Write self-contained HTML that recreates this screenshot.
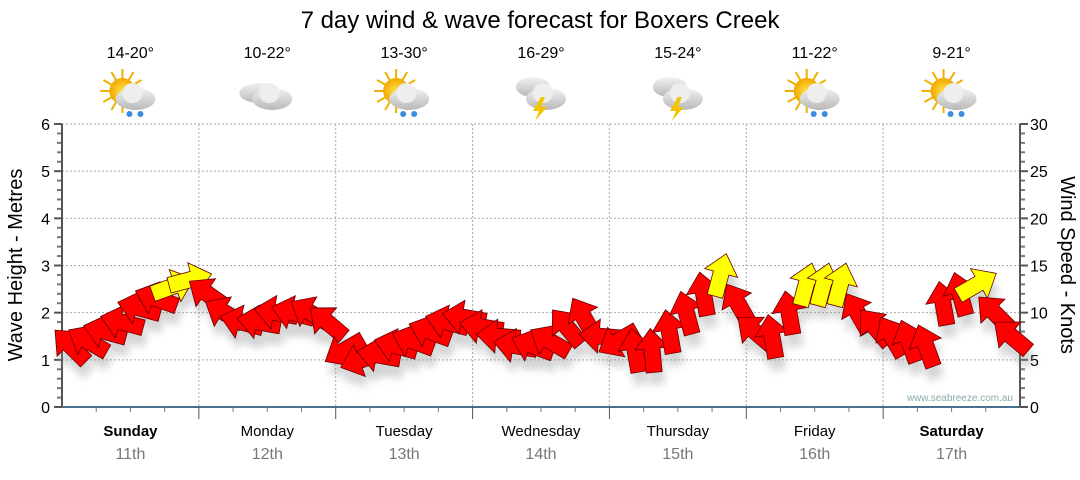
<!DOCTYPE html>
<html><head><meta charset="utf-8"><style>
body{margin:0;background:#fff;font-family:"Liberation Sans","DejaVu Sans",sans-serif}
svg text{font-family:"Liberation Sans","DejaVu Sans",sans-serif}
</style></head><body>
<svg id="chart" width="1080" height="475" xmlns="http://www.w3.org/2000/svg">
<defs>
<radialGradient id="sun" cx="0.5" cy="0.5" r="0.5"><stop offset="0" stop-color="#ffe24a"/><stop offset="1" stop-color="#f0a800"/></radialGradient>
<linearGradient id="cloud" x1="0" y1="0" x2="0" y2="1"><stop offset="0" stop-color="#f2f2f2"/><stop offset="1" stop-color="#b8b8b8"/></linearGradient>
<filter id="sh" x="-50%" y="-50%" width="200%" height="200%"><feGaussianBlur stdDeviation="4"/></filter>
</defs>
<text x="540" y="28" font-size="24" text-anchor="middle" fill="#000">7 day wind &amp; wave forecast for Boxers Creek</text>
<g id="grid"></g>
<g id="axes"></g>
<g id="icons"></g>
<g id="shadows" opacity="0.35"></g>
<g id="arrows"></g>
<text x="1013" y="401" font-size="10" text-anchor="end" fill="#8aa">www.seabreeze.com.au</text>
<text transform="translate(22,265) rotate(-90)" font-size="20" text-anchor="middle">Wave Height - Metres</text>
<text transform="translate(1061,265) rotate(90)" font-size="20" text-anchor="middle">Wind Speed - Knots</text>
</svg>
<script>
const days=["Sunday","Monday","Tuesday","Wednesday","Thursday","Friday","Saturday"];
const dates=["11th","12th","13th","14th","15th","16th","17th"];
const temps=["14-20°","10-22°","13-30°","16-29°","15-24°","11-22°","9-21°"];
const icons=["sunrain","cloud","sunrain","storm","storm","sunrain","sunrain"];
const waveTicks=[0,1,2,3,4,5,6];
const windTicks=[0,5,10,15,20,25,30];
const windSpeed=[6.5,7,8,9,10.5,11.5,12.8,13.5, 12,10,9,9,10,10,10,9, 6,5,5.5,6.5,7,8,9,9.5, 8.5,7.5,6.5,6.5,7,8.5,9.5,7.5, 7,6,6,8,10,12,14,11, 8,7.5,10,13,13,13,10,8.5, 7.5,7,6.5,11,12,13,10,7.5];
const windDir=[-135,-150,-165,-165,-165,-160,-20,-15, -145,-150,-165,-170,-170,-165,-150,-140, 150,160,-170,-165,-160,-160,-165,-170, -170,-175,-170,-160,-150,-130,-120,-175, 150,-100,-95,-100,-105,-100,-75,-120, -140,-100,-100,-75,-75,-75,-120,-130, -120,-110,-110,-100,-105,-30,-135,-140];
const X0=62,X1=1020,Y0=407,Y1=124;
const xS=h=>X0+(X1-X0)*h/(7*24);
const yW=v=>Y0-(Y0-Y1)*v/6;
const yK=v=>Y0-(Y0-Y1)*v/30;
const NS="http://www.w3.org/2000/svg";
function mk(t,a,p){const e=document.createElementNS(NS,t);for(const k in a)e.setAttribute(k,a[k]);(p||document.getElementById('chart')).appendChild(e);return e;}
const grid=document.getElementById('grid'),axes=document.getElementById('axes');
waveTicks.forEach(v=>{if(v>0){const l=mk('line',{x1:X0,x2:X1,y1:yW(v),y2:yW(v),stroke:'#aaa','stroke-dasharray':'2,2'},grid);}
 const t=mk('text',{x:50,y:yW(v)+6,'font-size':16,'text-anchor':'end'},axes);t.textContent=v;
 mk('line',{x1:X0-8,x2:X0,y1:yW(v),y2:yW(v),stroke:'#555','stroke-width':2},axes);});
for(let i=0;i<30;i++){const v=i*0.2;if(i%5)mk('line',{x1:X0-5,x2:X0,y1:yW(v),y2:yW(v),stroke:'#777','stroke-width':2},axes);}
windTicks.forEach(v=>{const t=mk('text',{x:1030,y:yK(v)+6,'font-size':16},axes);t.textContent=v;
 mk('line',{x1:X1,x2:X1+8,y1:yK(v),y2:yK(v),stroke:'#555','stroke-width':2},axes);});
for(let k=1;k<30;k++){if(k%5)mk('line',{x1:X1,x2:X1+5,y1:yK(k),y2:yK(k),stroke:'#777','stroke-width':2},axes);}
mk('line',{x1:X0,x2:X0,y1:Y1,y2:Y0,stroke:'#555',"stroke-width":2},axes);
mk('line',{x1:X1,x2:X1,y1:Y1,y2:Y0,stroke:'#555',"stroke-width":2},axes);
mk('line',{x1:X0,x2:X1,y1:Y0,y2:Y0,stroke:'#4a7090','stroke-width':2},axes);
days.forEach((d,i)=>{const xc=xS(i*24+12);
 if(i>0){const l=mk('line',{x1:xS(i*24),x2:xS(i*24),y1:Y1,y2:Y0,stroke:'#aaa','stroke-dasharray':'2,2'},grid);
  mk('line',{x1:xS(i*24),x2:xS(i*24),y1:Y0,y2:Y0+12,stroke:'#555'},axes);}
 for(let q=1;q<4;q++)mk('line',{x1:xS(i*24+q*6),x2:xS(i*24+q*6),y1:Y0,y2:Y0+5,stroke:'#777'},axes);
 const b=(i==0||i==6);
 const t=mk('text',{x:xc,y:436,'font-size':15,'text-anchor':'middle','font-weight':b?'bold':'normal'},axes);t.textContent=d;
 const t2=mk('text',{x:xc,y:459,'font-size':16,'text-anchor':'middle',fill:'#777'},axes);t2.textContent=dates[i];
 const t3=mk('text',{x:xc,y:58,'font-size':16,'text-anchor':'middle'},axes);t3.textContent=temps[i];
 const g=mk('g',{transform:`translate(${xc},95)`},document.getElementById('icons'));
 const ty=icons[i];
 if(ty=='sunrain'){for(let r=0;r<12;r++){const a=r*30*Math.PI/180;mk('line',{x1:-8+Math.cos(a)*12,y1:-4+Math.sin(a)*12,x2:-8+Math.cos(a)*22,y2:-4+Math.sin(a)*22,stroke:'#f0b000','stroke-width':2},g);}
  mk('circle',{cx:-8,cy:-4,r:13,fill:'url(#sun)'},g);}
 if(ty=='cloud'){mk('ellipse',{cx:-8,cy:-2,rx:20,ry:10,fill:'url(#cloud)'},g);}
 if(ty=='storm'){mk('ellipse',{cx:-8,cy:-8,rx:17,ry:10,fill:'url(#cloud)'},g);}
 mk('ellipse',{cx:5,cy:4,rx:20,ry:11,fill:'url(#cloud)'},g);mk('circle',{cx:2,cy:-2,r:10,fill:'#eee'},g);
 if(ty=='sunrain'){mk('circle',{cx:-1,cy:19,r:3,fill:'#3a8ee0'},g);mk('circle',{cx:10,cy:19,r:3,fill:'#3a8ee0'},g);}
 if(ty=='storm'){mk('polygon',{points:'0,2 -8,16 -2,16 -6,26 6,12 0,12 4,2',fill:'#f5c400'},g);}
});
const arr=document.getElementById('arrows'),shd=document.getElementById('shadows');
const pts="-22,-8 2,-8 2,-17 22,0 2,17 2,8 -22,8";
windSpeed.forEach((s,i)=>{const x=xS(i*3+1.5),y=yK(s),a=windDir[i];
 mk('polygon',{points:pts,fill:'#888',filter:'url(#sh)',transform:`translate(${x+3},${y+12}) rotate(${a})`},shd);
 const p=mk('polygon',{points:pts,fill:s>=12.5?'#ffff00':'#ff0000',stroke:'#600','stroke-width':0.8,transform:`translate(${x},${y}) rotate(${a})`},arr);
 
 
});
</script>
</body></html>
